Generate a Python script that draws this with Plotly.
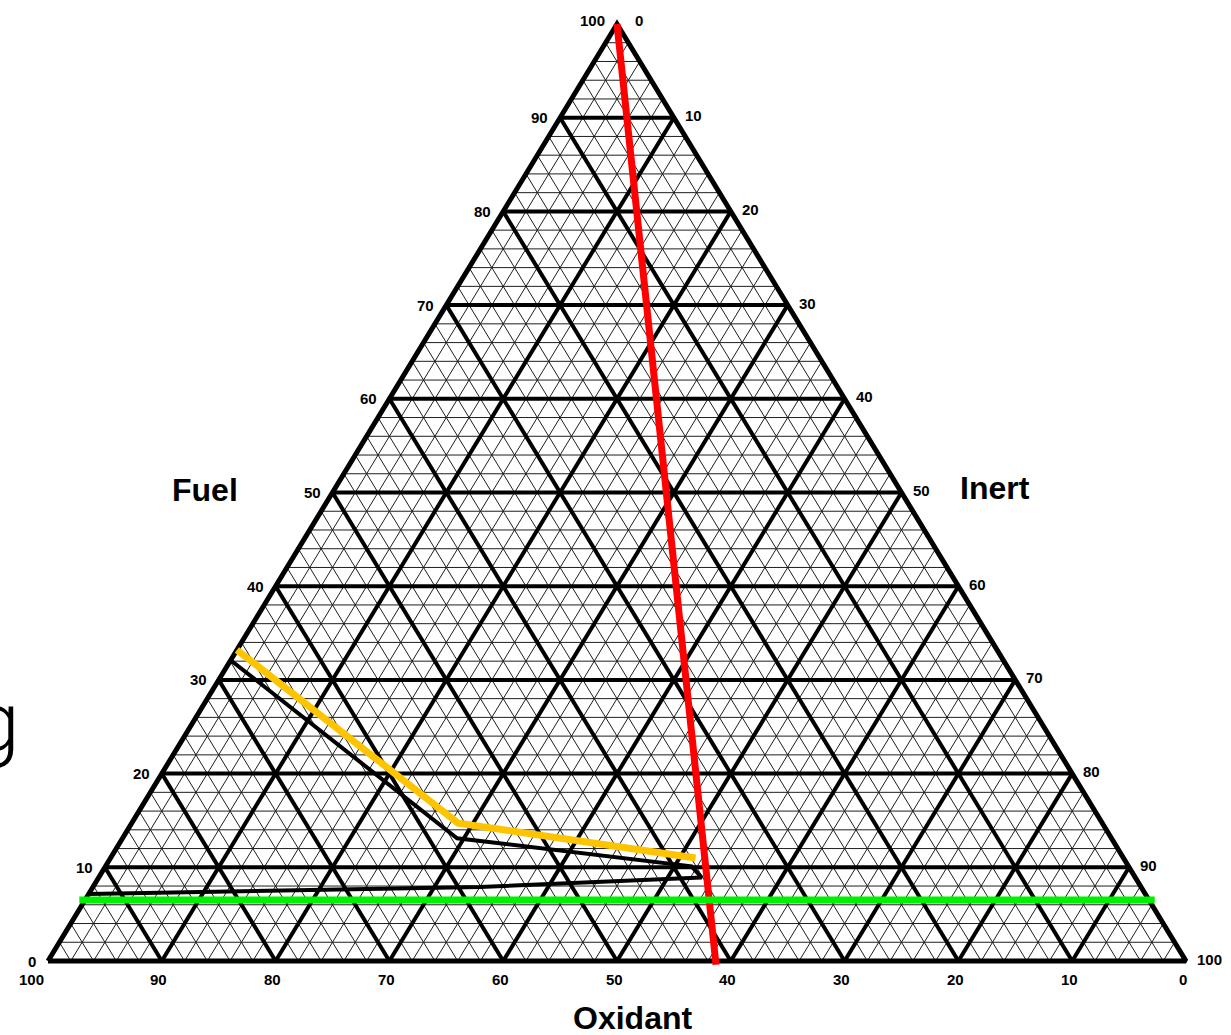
import plotly.graph_objects as go

# ---------------- data (ternary percentages) ----------------
tick_values = [0, 10, 20, 30, 40, 50, 60, 70, 80, 90, 100]
tick_labels = ["0", "10", "20", "30", "40", "50", "60", "70", "80", "90", "100"]
minor_step = 2

# flammability envelope (black)
envelope_fuel = [32.1, 13.1, 10.1, 8.9, 7.9, 7.15]
envelope_inert = [0.0, 29.4, 51.5, 53.0, 34.0, 0.0]

# yellow line
yellow_fuel = [33.2, 14.7, 11.0]
yellow_inert = [0.0, 28.7, 51.4]

# red line (from fuel apex to the oxidant/inert base)
red_fuel = [100.0, -0.4]
red_inert = [0.0, 58.9]

# green line (constant fuel)
green_fuel = [6.5, 6.5]
green_inert = [-0.5, 94.0]

axis_titles = {"fuel": "Fuel", "inert": "Inert", "oxidant": "Oxidant"}


def to_xy(fuel, inert):
    """ternary (fuel, inert, oxidant=100-fuel-inert) -> plane coords"""
    return inert + fuel / 2.0, fuel


def seg_lines(levels):
    xs, ys = [], []
    for k in levels:
        # constant fuel
        for f, i in ((k, 0), (k, 100 - k)):
            x, y = to_xy(f, i); xs.append(x); ys.append(y)
        xs.append(None); ys.append(None)
        # constant inert
        for f, i in ((0, k), (100 - k, k)):
            x, y = to_xy(f, i); xs.append(x); ys.append(y)
        xs.append(None); ys.append(None)
        # constant oxidant (o = k -> fuel + inert = 100 - k)
        for f, i in ((0, 100 - k), (100 - k, 0)):
            x, y = to_xy(f, i); xs.append(x); ys.append(y)
        xs.append(None); ys.append(None)
    return xs, ys


def path(fuels, inerts):
    pts = [to_xy(f, i) for f, i in zip(fuels, inerts)]
    return [p[0] for p in pts], [p[1] for p in pts]


fig = go.Figure()

minor_levels = [v for v in range(minor_step, 100, minor_step) if v % 10 != 0]
major_levels = [v for v in tick_values if 0 < v < 100]

mx, my = seg_lines(minor_levels)
fig.add_trace(go.Scatter(x=mx, y=my, mode="lines",
                         line=dict(color="#1e1e1e", width=1), hoverinfo="skip"))
Mx, My = seg_lines(major_levels)
fig.add_trace(go.Scatter(x=Mx, y=My, mode="lines",
                         line=dict(color="black", width=4), hoverinfo="skip"))
bx, by = path([0, 100, 0, 0], [0, 0, 100, 0])
fig.add_trace(go.Scatter(x=bx, y=by, mode="lines",
                         line=dict(color="black", width=5), hoverinfo="skip"))

ex, ey = path(envelope_fuel, envelope_inert)
fig.add_trace(go.Scatter(x=ex, y=ey, mode="lines",
                         line=dict(color="black", width=4)))
yx, yy = path(yellow_fuel, yellow_inert)
fig.add_trace(go.Scatter(x=yx, y=yy, mode="lines",
                         line=dict(color="#FFC400", width=7)))
rx, ry = path(red_fuel, red_inert)
fig.add_trace(go.Scatter(x=rx, y=ry, mode="lines",
                         line=dict(color="#FF0000", width=7)))
gx, gy = path(green_fuel, green_inert)
fig.add_trace(go.Scatter(x=gx, y=gy, mode="lines",
                         line=dict(color="#00F000", width=7)))

tick_font = dict(family="Arial", size=15, color="black", weight="bold")
annotations = []
for v, lab in zip(tick_values, tick_labels):
    # fuel ticks on the left edge
    x, y = to_xy(v, 0)
    annotations.append(dict(x=x, y=y, text=lab, showarrow=False, xanchor="right",
                            yanchor="middle", xshift=-10, yshift=(4 if v == 100 else 0),
                            font=tick_font))
    # inert ticks on the right edge
    x, y = to_xy(100 - v, v)
    annotations.append(dict(x=x, y=y, text=lab, showarrow=False, xanchor="left",
                            yanchor="middle", xshift=(16 if v == 0 else 9),
                            yshift=(4 if v == 0 else 2), font=tick_font))
    # oxidant ticks on the base
    x, y = to_xy(0, 100 - v)
    annotations.append(dict(x=x, y=y, text=lab, showarrow=False, xanchor="center",
                            yanchor="middle", xshift=(-17 if v == 100 else -3),
                            yshift=-18, font=tick_font))

title_font = dict(family="Arial", size=32, color="black", weight="bold")
annotations += [
    dict(x=205 / 1231, y=1 - 490 / 1035, xref="paper", yref="paper", text=axis_titles["fuel"],
         showarrow=False, xanchor="center", yanchor="middle", font=title_font),
    dict(x=995 / 1231, y=1 - 488 / 1035, xref="paper", yref="paper", text=axis_titles["inert"],
         showarrow=False, xanchor="center", yanchor="middle", font=title_font),
    dict(x=632 / 1231, y=1 - 1018 / 1035, xref="paper", yref="paper", text=axis_titles["oxidant"],
         showarrow=False, xanchor="center", yanchor="middle", font=title_font),
    dict(x=22 / 1231, y=1 - 722 / 1035, xref="paper", yref="paper", text="g",
         showarrow=False, xanchor="right", yanchor="middle",
         font=dict(family="Roboto", size=84, color="black", weight=300)),
]

px_per_x = (1186 - 48) / 100.0
px_per_y = (961 - 24) / 100.0
fig.update_layout(
    width=1231, height=1035,
    margin=dict(l=0, r=0, t=0, b=0),
    paper_bgcolor="white", plot_bgcolor="white",
    showlegend=False,
    xaxis=dict(range=[-48 / px_per_x, (1231 - 48) / px_per_x], visible=False, fixedrange=True),
    yaxis=dict(range=[-(1035 - 961) / px_per_y, 100 + 24 / px_per_y], visible=False, fixedrange=True),
    annotations=annotations,
)

fig.write_html("out.html",
               config={"displayModeBar": False},
               post_script="document.body.style.margin='0px';"
                           "document.documentElement.style.margin='0px';")
